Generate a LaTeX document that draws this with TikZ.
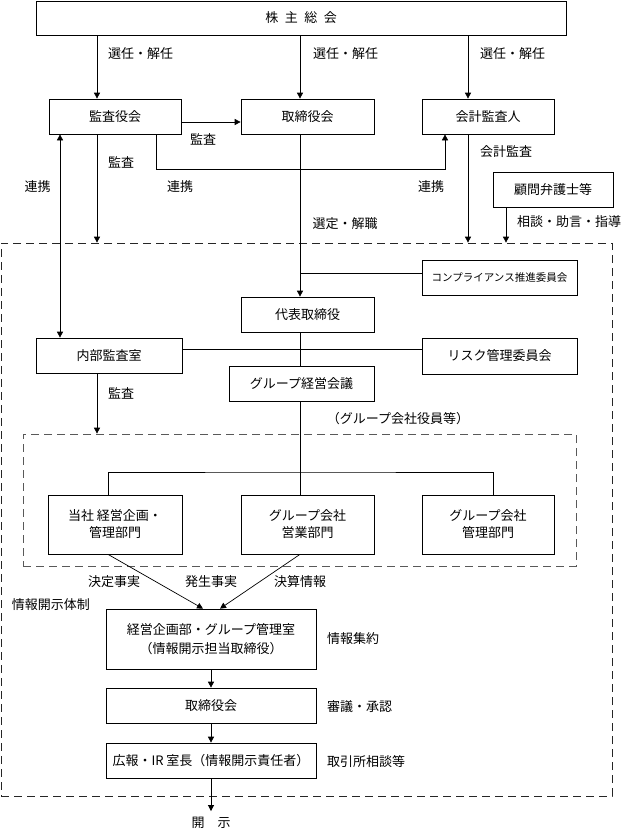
\documentclass[tikz,border=0pt]{standalone}
\usepackage{fontspec}
\setmainfont{Noto Sans CJK JP}
\usepackage{tikz}
\usetikzlibrary{arrows.meta,positioning,calc}

\begin{document}
\begin{tikzpicture} [x=1pt, y=-1pt,
box/.style    = { rectangle, draw=black, line width=0.7pt, inner sep=0pt,
    align=center, minimum height=35pt, font=\fontsize{13}{17}\selectfont },
smallbox/.style = { box, font=\fontsize{10.5}{13}\selectfont },
lbl/.style    = { inner sep=0pt, font=\fontsize{13}{15}\selectfont },
frame/.style  = { rectangle, draw=black!85, line width=0.7pt, inner sep=0pt,
    dash pattern=on 8pt off 5pt },
line/.style   = { draw, line width=0.7pt, -{Triangle[length=6pt,width=6pt]} },
plain/.style  = { draw, line width=0.7pt },
]
\useasboundingbox (0,0) rectangle (622,830);

% dashed frames
\node[frame, minimum width=611pt, minimum height=553pt] (outer) at (306.5,519.5) {};
\node[frame, draw=black!65, minimum width=553pt, minimum height=132pt] (inner) at (299.5,500) {};

% Define nodes
\node[box, minimum width=530pt, minimum height=34pt] (gm) at (301,18) {株\hspace{0.5em}主\hspace{0.5em}総\hspace{0.5em}会};
\node[box, minimum width=132pt] (kansa) at (115,116.5) {監査役会};
\node[box, minimum width=133pt] (board) at (307.5,116.5) {取締役会};
\node[box, minimum width=132pt] (auditor) at (488,116.5) {会計監査人};
\node[box, minimum width=120pt] (lawyer) at (553,189.5) {顧問弁護士等};
\node[smallbox, minimum width=155pt] (comp) at (499.5,277.5) {コンプライアンス推進委員会};
\node[box, minimum width=133pt] (ceo) at (307.5,314.5) {代表取締役};
\node[box, minimum width=146pt] (naibu) at (109,355.5) {内部監査室};
\node[box, minimum width=155pt, minimum height=36pt] (risk) at (499.5,356) {リスク管理委員会};
\node[box, minimum width=145pt] (gkaigi) at (301.5,383.5) {グループ経営会議};
\node[box, minimum width=134pt, minimum height=59pt] (tousha) at (115,524.5) {当社 経営企画・\\管理部門};
\node[box, minimum width=133pt, minimum height=59pt] (eigyo) at (307.5,524.5) {グループ会社\\営業部門};
\node[box, minimum width=132pt, minimum height=59pt] (kanri) at (488,524.5) {グループ会社\\管理部門};
\node[box, minimum width=210pt, minimum height=60pt, font=\fontsize{13}{19}\selectfont] (keiei) at (211,639) {経営企画部・グループ管理室\\（情報開示担当取締役）};
\node[box, minimum width=210pt] (board2) at (211,705.5) {取締役会};
\node[box, minimum width=210pt] (pr) at (211,760.5) {広報・IR 室長（情報開示責任者）};
\node[lbl, inner sep=6pt] (kaiji) at (211,823) {開\hspace{1em}示};

% labels
\node[lbl] at (140.5,54) {選任・解任};
\node[lbl] at (345.5,54) {選任・解任};
\node[lbl] at (512.5,54) {選任・解任};
\node[lbl] at (203,139) {監査};
\node[lbl] at (121,162) {監査};
\node[lbl] at (506,152) {会計監査};
\node[lbl] at (37.5,187) {連携};
\node[lbl] at (180,187) {連携};
\node[lbl] at (431,187) {連携};
\node[lbl] at (345,224) {選定・解職};
\node[lbl, anchor=west] at (517,222) {相談・助言・指導};
\node[lbl] at (121,393) {監査};
\node[lbl] at (398,419) {（グループ会社役員等）};
\node[lbl] at (114,582) {決定事実};
\node[lbl] at (211,582) {発生事実};
\node[lbl] at (300,582) {決算情報};
\node[lbl] at (51,605) {情報開示体制};
\node[lbl, anchor=west] at (327,639) {情報集約};
\node[lbl, anchor=west] at (327,707) {審議・承認};
\node[lbl, anchor=west] at (327,762) {取引所相談等};

\coordinate (spine) at (300,273);
\coordinate (bar) at (300,472);

% connect all nodes defined above
\begin{scope} [every path/.style=line]
\path ([xshift=-18pt]kansa.north |- gm.south) -- ([xshift=-18pt]kansa.north);
\path ([xshift=-7.5pt]board.north |- gm.south) -- ([xshift=-7.5pt]board.north);
\path ([xshift=-20pt]auditor.north |- gm.south) -- ([xshift=-20pt]auditor.north);
\path ([yshift=-5.5pt]kansa.east) -- ([yshift=-5.5pt]kansa.east -| board.west);
\path ([xshift=-18pt]kansa.south) -- ([xshift=-18pt]kansa.south |- outer.north);
\path ([xshift=41pt]kansa.south) -- ++(0,35) -| ([xshift=-43pt]auditor.south);
\path ([xshift=-7.5pt]board.south) -- ([xshift=-7.5pt]ceo.north);
\path ([xshift=-20pt]auditor.south) -- ([xshift=-20pt]auditor.south |- outer.north);
\path ([xshift=-47pt]lawyer.south) -- ([xshift=-47pt]lawyer.south |- outer.north);
\path ([xshift=-12pt]naibu.south) -- ([xshift=-12pt]naibu.south |- inner.north);
\path ([xshift=-7pt]tousha.south) -- ([xshift=-8pt]keiei.north);
\path ([xshift=-7.5pt]eigyo.south) -- ([xshift=9pt]keiei.north);
\path (keiei) -- (board2);
\path (board2) -- (pr);
\path (pr) -- (kaiji);
\end{scope}
\draw[plain, {Triangle[length=6pt,width=6pt]}-{Triangle[length=6pt,width=6pt]}] ([xshift=-49pt]naibu.north) -- ([xshift=-55pt]kansa.south);
\draw[plain] ([yshift=4.5pt]comp.west) -- ([yshift=4.5pt]comp.west -| spine);
\draw[plain] ([yshift=6pt]naibu.east) -- ([yshift=6pt]naibu.east -| risk.west);
\draw[plain] (ceo.south -| spine) -- (gkaigi.north -| spine);
\draw[plain] (gkaigi.south -| spine) -- (eigyo.north -| spine);
\draw[plain] ([xshift=-7pt]tousha.north) |- (bar) -| ([xshift=5pt]kanri.north);

\end{tikzpicture}
\end{document}
